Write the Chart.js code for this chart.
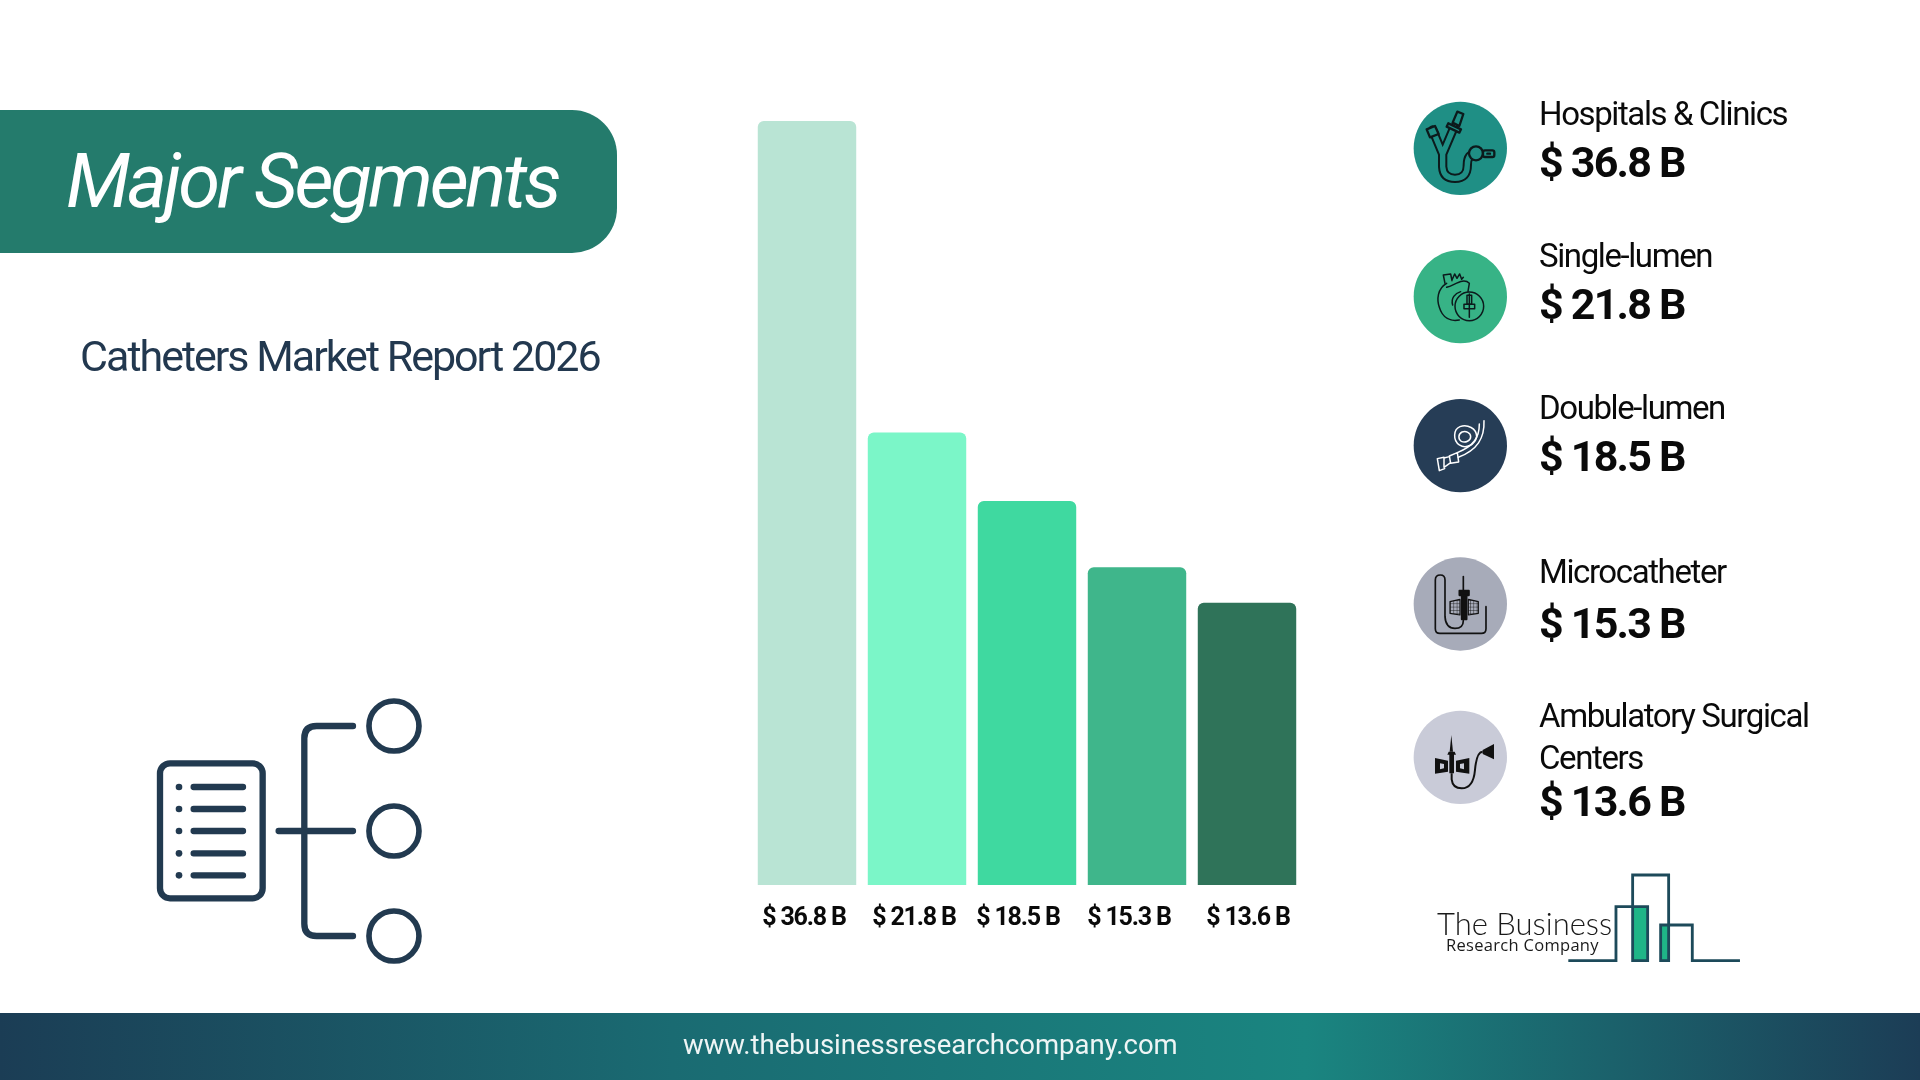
<!DOCTYPE html>
<html>
<head>
<meta charset="utf-8">
<title>Catheters Market Report 2026</title>
<script src="https://cdn.jsdelivr.net/npm/chart.js@4"></script>
<style>
    html, body { margin: 0; padding: 0; background: #fff; }
    #page { position: relative; width: 1920px; height: 1080px; overflow: hidden; background: #fff; font-family: Roboto, sans-serif; }
    #chart { position: absolute; left: 0; top: 0; }
    #art { position: absolute; left: 0; top: 0; pointer-events: none; }
</style>
</head>
<body>
<div id="page">
    <canvas id="chart" width="1920" height="1080"></canvas>
    <svg id="art" width="1920" height="1080" viewBox="0 0 1920 1080" xmlns="http://www.w3.org/2000/svg">
        <defs>
            <linearGradient id="footerFill" x1="0" x2="1" y1="0" y2="0">
                <stop offset="0" stop-color="#1b3d55"/>
                <stop offset="0.35" stop-color="#1a6b72"/>
                <stop offset="0.68" stop-color="#1a8580"/>
                <stop offset="1" stop-color="#1c3d56"/>
            </linearGradient>
            <pattern id="mesh" width="10" height="10" patternUnits="userSpaceOnUse">
                <rect width="10" height="10" fill="#a7abb9"/>
                <path d="M0 0H10M0 0V10" stroke="#111" stroke-width="2.6"/>
            </pattern>
        </defs>

        <!-- banner -->
        <path d="M0 110 H572 A45 45 0 0 1 617 155 V208 A45 45 0 0 1 572 253 H0 Z" fill="#247b6c"/>
        <text x="66" y="207" font-size="76" font-style="italic" font-weight="400" letter-spacing="-3.3" fill="#fff">Major Segments</text>
        <text x="80" y="371" font-size="43" letter-spacing="-2" fill="#22384f">Catheters Market Report 2026</text>

        <!-- segments tree icon -->
        <g transform="translate(130 680) scale(0.3333)" fill="none" stroke="#223a50" stroke-width="19" stroke-linecap="round">
            <rect x="90" y="250" width="308" height="405" rx="30"/>
            <path d="M191 321H339M191 387H339M191 453H339M191 520H339M191 586H339"/>
            <path d="M446 453H669M669 138H560Q523 138 523 175V731Q523 768 560 768H669"/>
            <circle cx="792" cy="138" r="75" stroke-width="17"/>
            <circle cx="792" cy="453" r="75" stroke-width="17"/>
            <circle cx="792" cy="768" r="75" stroke-width="17"/>
            <g fill="#223a50" stroke="none">
                <circle cx="147" cy="321" r="10"/><circle cx="147" cy="387" r="10"/><circle cx="147" cy="453" r="10"/>
                <circle cx="147" cy="520" r="10"/><circle cx="147" cy="586" r="10"/>
            </g>
        </g>

        <!-- icons, top three -->
        <g transform="translate(1380 70) scale(0.3333)">
            <circle cx="241" cy="235" r="140" fill="#1f8f85"/>
            <circle cx="241" cy="680" r="140" fill="#37b386"/>
            <circle cx="241" cy="1127" r="140" fill="#263d56"/>

            <g fill="none" stroke-linecap="round" stroke-linejoin="round">
                <path d="M158 180L188 252V290Q190 325 225 325Q262 325 262 285Q262 250 290 250M222 172L188 252" stroke="#0c1a1c" stroke-width="28"/>
                <path d="M158 180L188 252V290Q190 325 225 325Q262 325 262 285Q262 250 290 250M222 172L188 252" stroke="#1f8f85" stroke-width="16"/>
                <g stroke="#0c1a1c" stroke-width="7" fill="#1f8f85">
                    <path d="M140 178L165 168L176 192L150 202Z"/>
                    <path d="M205 160L243 178L238 188L200 170Z"/>
                    <path d="M218 158L232 125L250 132L238 168Z"/>
                    <circle cx="288" cy="250" r="21"/>
                    <rect x="309" y="241" width="34" height="20" rx="6"/>
                    <path d="M322 251H330"/>
                </g>
            </g>

            <g fill="none" stroke="#0c1a1c" stroke-width="4.5" stroke-linejoin="round" stroke-linecap="round">
                <path d="M200 640C172 655 170 690 178 712C188 745 212 755 238 750"/>
                <path d="M195 640L190 615L212 612L216 632M216 630L224 612L231 625L239 612L245 628L250 622"/>
                <path d="M200 652C225 645 250 622 268 640L264 664M218 705C212 685 225 670 242 665"/>
                <circle cx="268" cy="709" r="43"/>
                <path d="M268 672V742M252 703H284V716H252ZM261 676H275V702H261Z"/>
            </g>

            <g fill="none" stroke="#fff" stroke-width="4.5" stroke-linejoin="round" stroke-linecap="round">
                <path d="M290 1100C290 1075 262 1062 240 1070C220 1078 218 1110 238 1125C258 1138 285 1125 290 1100Z"/>
                <path d="M272 1100C272 1088 258 1082 246 1086C234 1092 234 1108 244 1114C256 1120 272 1112 272 1100Z"/>
                <path d="M312 1052C314 1105 292 1140 235 1162M298 1062C298 1102 282 1128 232 1148"/>
                <path d="M232 1148L236 1176L212 1180L208 1158ZM208 1160L192 1164V1192L212 1178M192 1162L172 1166L178 1202L194 1196"/>
            </g>
        </g>

        <!-- icons, bottom two and logo -->
        <g transform="translate(1380 520) scale(0.3333)">
            <circle cx="241" cy="252" r="140" fill="#a7abb9"/>
            <circle cx="241" cy="712" r="140" fill="#c9cbd8"/>

            <g fill="none" stroke="#111" stroke-width="5" stroke-linejoin="round" stroke-linecap="round">
                <path d="M318 260V326Q318 340 304 340H180Q166 340 166 326V180Q166 165 181 165Q195 165 195 180V290Q197 325 225 325Q250 325 250 302"/>
                <path d="M250 170V214"/>
                <path d="M238 212H267V226H238Z" fill="#111"/>
                <path d="M245 226H260V298H245Z" fill="#111"/>
                <path d="M210 245L240 238V285L210 280Z" fill="url(#mesh)" stroke-width="3.5"/>
                <path d="M265 238L295 245V280L265 285Z" fill="url(#mesh)" stroke-width="3.5"/>
            </g>

            <g fill="#111">
                <path d="M214 645L219 695H209Z"/>
                <path d="M206 695H224L228 704H202ZM208 704H222V760H208Z"/>
                <path d="M165 714L204 722V755L165 761Z"/>
                <path d="M228 722L268 714V761L228 755Z"/>
                <path d="M308 690L342 672V718L308 702Z"/>
                <path d="M180 730L192 732V745L180 748ZM240 732L252 730V748L240 745Z" fill="#c9cbd8"/>
            </g>
            <path d="M215 760V778Q218 805 245 805Q280 805 285 750Q290 695 308 695" fill="none" stroke="#111" stroke-width="6"/>

            <rect x="758" y="1160" width="45" height="162" fill="#1fb587"/>
            <rect x="842" y="1215" width="24" height="107" fill="#1fb587"/>
            <path d="M565 1322H708V1160H803V1322H758V1065H866V1322H842V1215H937V1322H1080" fill="none" stroke="#1d4a5a" stroke-width="8.5"/>
        </g>
        <text x="1437" y="935" font-family="Lato, sans-serif" font-weight="300" font-size="31" fill="#1a1a1a">The Business</text>
        <text x="1446" y="951" font-family="'Open Sans', sans-serif" font-weight="400" font-size="16.5" letter-spacing="0.3" fill="#1a1a1a">Research Company</text>

        <g id="rows"></g>

        <!-- footer -->
        <rect x="0" y="1013" width="1920" height="67" fill="url(#footerFill)"/>
        <text x="683" y="1054" font-size="27.5" fill="#eef5f5">www.thebusinessresearchcompany.com</text>
    </svg>
</div>

<script>
const segments = ['Hospitals & Clinics', 'Single-lumen', 'Double-lumen', 'Microcatheter', 'Ambulatory Surgical Centers'];
const marketSize = [36.8, 21.8, 18.5, 15.3, 13.6];
const tickLabels = ['$ 36.8 B', '$ 21.8 B', '$ 18.5 B', '$ 15.3 B', '$ 13.6 B'];
const barColors = ['#b9e4d4', '#7bf6c8', '#3fd9a0', '#3fb68b', '#2f7359'];

// tick labels sit a little off the bar centres in the reference
const tickNudge = [-3, -3, -9, -8, 1];

// baselines for the list on the right: name line(s), then value
const rowBaselines = [[125], [267], [419], [583], [727, 769]];
const rowValueBaselines = [177, 319, 471, 638, 816];

const svgNS = 'http://www.w3.org/2000/svg';
const rows = document.getElementById('rows');

function addText(str, y, size, weight, spacing) {
    const t = document.createElementNS(svgNS, 'text');
    t.setAttribute('x', 1539);
    t.setAttribute('y', y);
    t.setAttribute('font-size', size);
    t.setAttribute('font-weight', weight);
    t.setAttribute('letter-spacing', spacing);
    t.setAttribute('fill', '#0a0a0a');
    t.textContent = str;
    rows.appendChild(t);
}

segments.forEach((name, i) => {
    const lines = rowBaselines[i].length > 1 ? ['Ambulatory Surgical', 'Centers'] : [name];
    lines.forEach((line, j) => addText(line, rowBaselines[i][j], 33, 400, -1.4));
    addText(tickLabels[i], rowValueBaselines[i], 43, 700, -1.8);
});

const nudgedTicks = {
    id: 'nudgedTicks',
    afterDraw(chart) {
        const { ctx, scales: { x }, chartArea } = chart;
        ctx.save();
        ctx.font = '700 25px Roboto';
        ctx.letterSpacing = '-1.2px';
        ctx.fillStyle = '#0a0a0a';
        ctx.textAlign = 'center';
        ctx.textBaseline = 'alphabetic';
        tickLabels.forEach((label, i) => {
            ctx.fillText(label, x.getPixelForValue(i) + tickNudge[i], chartArea.bottom + 40);
        });
        ctx.restore();
    }
};

new Chart(document.getElementById('chart'), {
    type: 'bar',
    data: {
        labels: segments,
        datasets: [{
            data: marketSize,
            backgroundColor: barColors,
            borderRadius: { topLeft: 6, topRight: 6 },
            borderSkipped: 'bottom',
            categoryPercentage: 0.895,
            barPercentage: 1
        }]
    },
    options: {
        responsive: false,
        animation: false,
        layout: { padding: { left: 752, right: 618, top: 121, bottom: 195 } },
        plugins: { legend: { display: false }, tooltip: { enabled: false } },
        scales: {
            x: { display: false },
            y: { display: false, min: 0, max: 36.8 }
        }
    },
    plugins: [nudgedTicks]
});
</script>
</body>
</html>
